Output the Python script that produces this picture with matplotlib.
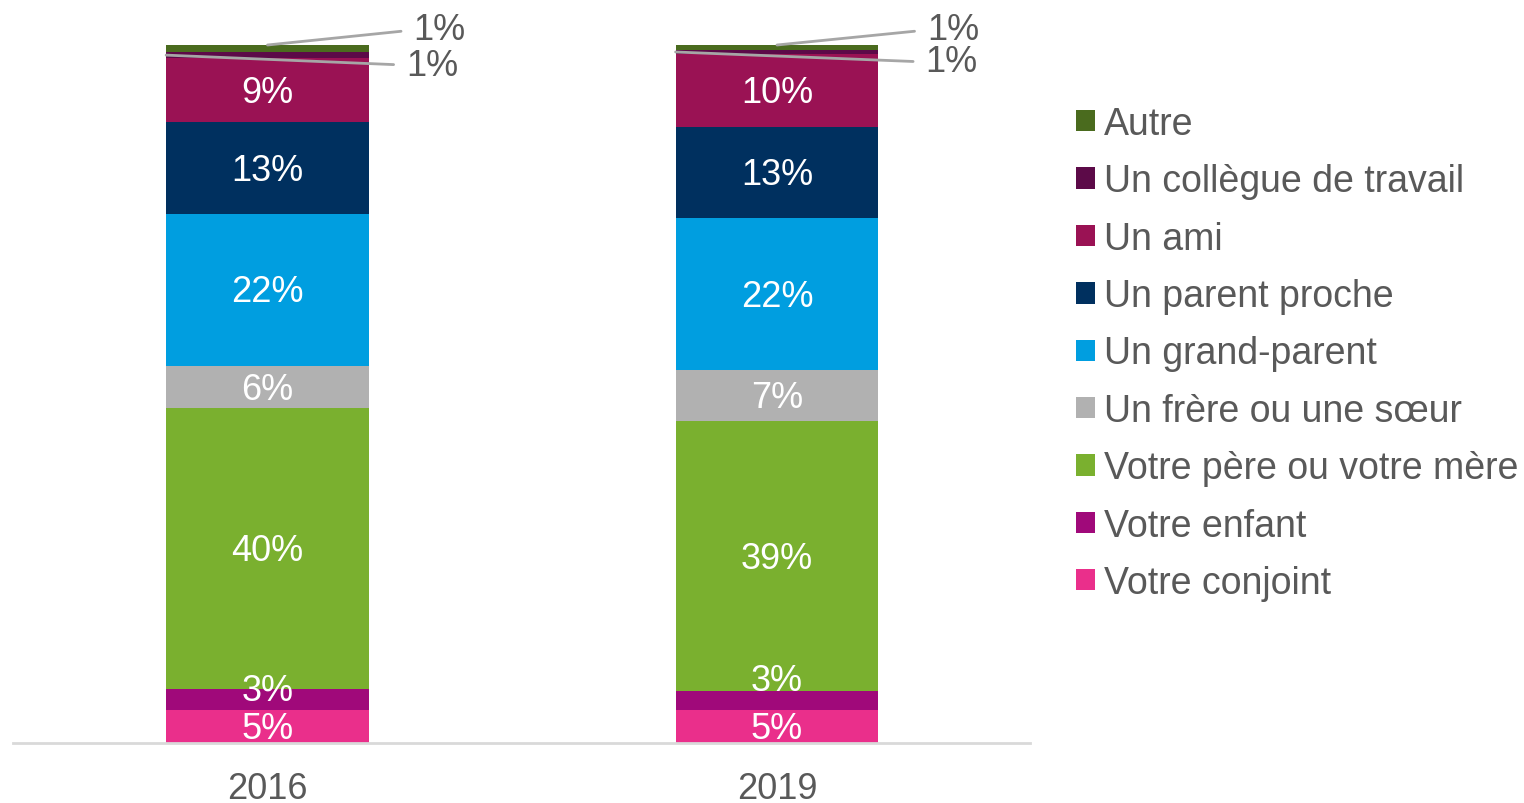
import matplotlib.pyplot as plt

plt.rcParams['font.family'] = ['Liberation Sans', 'DejaVu Sans']

# Années et catégories (du bas vers le haut de la pile)
annees = ["2016", "2019"]
categories = [
    "Votre conjoint",
    "Votre enfant",
    "Votre père ou votre mère",
    "Un frère ou une sœur",
    "Un grand-parent",
    "Un parent proche",
    "Un ami",
    "Un collègue de travail",
    "Autre",
]

# Parts en %
conjoint = [4.7, 4.7]
enfant = [3.1, 2.7]
pere_mere = [40.2, 38.7]
frere_soeur = [6.0, 7.3]
grand_parent = [21.8, 21.8]
parent_proche = [13.1, 13.1]
ami = [9.2, 10.4]
collegue = [0.9, 0.6]
autre = [1.0, 0.7]

series = [conjoint, enfant, pere_mere, frere_soeur, grand_parent,
          parent_proche, ami, collegue, autre]

couleurs = ["#ea2f8b", "#a0097a", "#7ab02f", "#b1b1b1", "#009ee0",
            "#00305f", "#9a1254", "#5c0a48", "#4a6b1e"]

gris = "#595959"
fs = 26

fig = plt.figure(figsize=(15.24, 8.04), dpi=100)
ax = fig.add_axes([13 / 1524, 60 / 804, 1017 / 1524, 698 / 804])

x = [0, 1]
largeur = 0.398
bas = [0.0, 0.0]
barres = []
for i, (vals, nom, coul) in enumerate(zip(series, categories, couleurs)):
    b = ax.bar(x, vals, largeur, bottom=bas, color=coul, label=nom, zorder=2)
    barres.append(b)
    for j in range(len(x)):
        centre = bas[j] + vals[j] / 2
        if i == 1:
            # Excel a poussé cette étiquette vers le haut
            ax.annotate(f"{round(vals[j])}%", (x[j], bas[j] + vals[j]),
                        xytext=(0, [-2, 11][j]), textcoords='offset pixels',
                        ha='center', va='center', color='white', fontsize=fs,
                        zorder=3)
        elif i == 7:
            ax.annotate(f"{round(vals[j])}%", (x[j] - largeur / 2, centre),
                        xytext=([240, 250][j], -10), textcoords='offset pixels',
                        ha='left', va='center', color=gris, fontsize=fs,
                        arrowprops=dict(arrowstyle='-', color='#a6a6a6', lw=2,
                                        shrinkA=7, shrinkB=0, relpos=(0, 0.5)),
                        zorder=4, annotation_clip=False)
        elif i == 8:
            ax.annotate(f"{round(vals[j])}%", (x[j], bas[j] + vals[j]),
                        xytext=([146, 150][j], 15), textcoords='offset pixels',
                        ha='left', va='center', color=gris, fontsize=fs,
                        arrowprops=dict(arrowstyle='-', color='#a6a6a6', lw=2,
                                        shrinkA=7, shrinkB=0, relpos=(0, 0.5)),
                        zorder=4, annotation_clip=False)
        else:
            ax.annotate(f"{round(vals[j])}%", (x[j], centre), xytext=(0, -2),
                        textcoords='offset pixels', ha='center', va='center',
                        color='white', fontsize=fs, zorder=3)
    bas = [bas[j] + vals[j] for j in range(len(x))]

ax.set_xlim(-0.4995, 1.4966)
ax.set_ylim(0, 100)
ax.set_yticks([])
ax.set_xticks(x)
ax.set_xticklabels(annees, fontsize=fs, color=gris)
ax.tick_params(axis='x', length=0, pad=20)
for s in ["top", "right", "left"]:
    ax.spines[s].set_visible(False)
ax.spines["bottom"].set_color("#d9d9d9")
ax.spines["bottom"].set_linewidth(2)

fig.legend(barres[::-1], categories[::-1], loc='upper left',
           bbox_to_anchor=(1076 / 1524, 1 - 107 / 804), frameon=False,
           fontsize=27, labelcolor=gris, handlelength=0.5, handleheight=0.5,
           handletextpad=0.25, labelspacing=0.57, borderaxespad=0,
           borderpad=0)

fig.savefig("out.png", dpi=100)
